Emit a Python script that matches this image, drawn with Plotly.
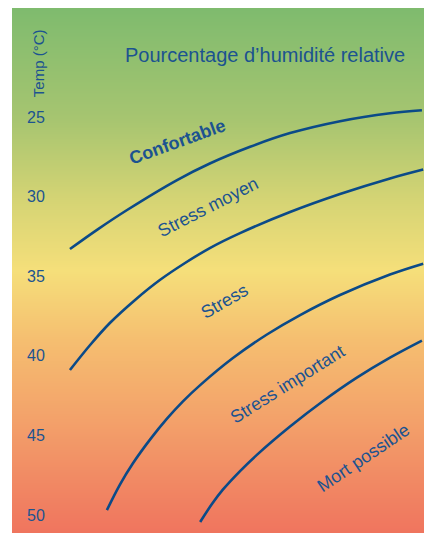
import plotly.graph_objects as go

# Relative humidity axis (hidden, 0-100) and temperature (deg C)
curve1_x = [13.8, 20.5, 27.4, 39.3, 47.1, 56.7, 66.2, 78.1, 90.0, 97.6]
curve1_t = [33.29, 32.04, 30.84, 28.96, 27.92, 26.87, 26.01, 25.26, 24.76, 24.57]

curve2_x = [13.8, 18.6, 23.3, 29.3, 35.2, 41.2, 47.1, 54.3, 66.2, 78.1, 90.0, 97.9]
curve2_t = [40.89, 39.32, 37.94, 36.49, 35.24, 34.17, 33.23, 32.29, 30.97, 29.84, 28.86, 28.30]

curve3_x = [22.6, 25.7, 28.8, 32.9, 36.9, 40.7, 44.8, 52.6, 60.7, 68.6, 78.1, 90.0, 97.9]
curve3_t = [49.69, 48.09, 46.75, 45.25, 43.95, 42.86, 41.84, 40.14, 38.66, 37.44, 36.18, 34.89, 34.21]

curve4_x = [44.8, 47.6, 50.2, 54.3, 58.3, 66.2, 74.0, 82.1, 90.0, 97.6]
curve4_t = [50.44, 49.31, 48.41, 47.24, 46.22, 44.44, 42.85, 41.37, 40.11, 39.04]

zone_labels = ["Confortable", "Stress moyen", "Stress", "Stress important", "Mort possible"]
zone_x = [39.3, 46.7, 50.7, 65.7, 83.6]
zone_t = [26.57, 30.65, 36.56, 41.77, 46.42]
zone_angle = [-20, -27, -30, -32, -34]

temp_ticks = [25, 30, 35, 40, 45, 50]

# background gradient stops (temperature -> colour)
bg_t = [17.5, 25.19, 30.21, 34.61, 39.01, 44.03, 51.8]
bg_colors = ["#7bba6e", "#a7c570", "#d5d474", "#f5df7a", "#f5be70", "#f3a16a", "#ef705d"]

LINE = "#0b4a88"
TEXT = "#1c5390"
FONT = "Arial, Liberation Sans, sans-serif"

fig = go.Figure()

# Gradient background via smoothed heatmap
t0, t1 = bg_t[0], bg_t[-1]
scale = [[(t - t0) / (t1 - t0), c] for t, c in zip(bg_t, bg_colors)]
fig.add_trace(go.Heatmap(x=[-10, 110], y=bg_t, z=[[t, t] for t in bg_t],
                         colorscale=scale, zmin=t0, zmax=t1, zsmooth='best',
                         showscale=False, hoverinfo='skip'))

for cx, ct in [(curve1_x, curve1_t), (curve2_x, curve2_t),
               (curve3_x, curve3_t), (curve4_x, curve4_t)]:
    fig.add_trace(go.Scatter(x=cx, y=ct, mode='lines',
                             line=dict(color=LINE, width=2.6, shape='spline', smoothing=1),
                             showlegend=False, hoverinfo='skip'))

# Zone labels along the curves
for i, (lab, x, t, a) in enumerate(zip(zone_labels, zone_x, zone_t, zone_angle)):
    fig.add_annotation(x=x, y=t, text=f"<b>{lab}</b>" if i == 0 else lab,
                       textangle=a, showarrow=False,
                       font=dict(family=FONT, size=18, color=TEXT))

fig.add_annotation(xref='paper', yref='paper', x=0.602, y=0.9105,
                   xanchor='center', yanchor='middle',
                   text="Pourcentage d’humidité relative", showarrow=False,
                   font=dict(family=FONT, size=20, color=TEXT))
fig.add_annotation(xref='paper', yref='paper', x=0.062, y=0.895,
                   xanchor='center', yanchor='middle',
                   text="Temp (°C)", textangle=-90, showarrow=False,
                   font=dict(family=FONT, size=15, color=TEXT))

# page body has an 8px margin, so size the figure to fill the rest
fig.update_layout(
    width=424, height=525,
    margin=dict(l=4, r=0, t=0, b=0),
    paper_bgcolor='white', plot_bgcolor='white',
    showlegend=False,
    xaxis=dict(range=[0, 100], visible=False),
    yaxis=dict(range=[51.13, 18.15], tickvals=temp_ticks,
               ticklabelposition='inside', ticklabelstandoff=12,
               tickfont=dict(family=FONT, size=16, color=TEXT),
               showgrid=False, zeroline=False, showline=False, ticks=''),
)

fig.write_html("out.html")
